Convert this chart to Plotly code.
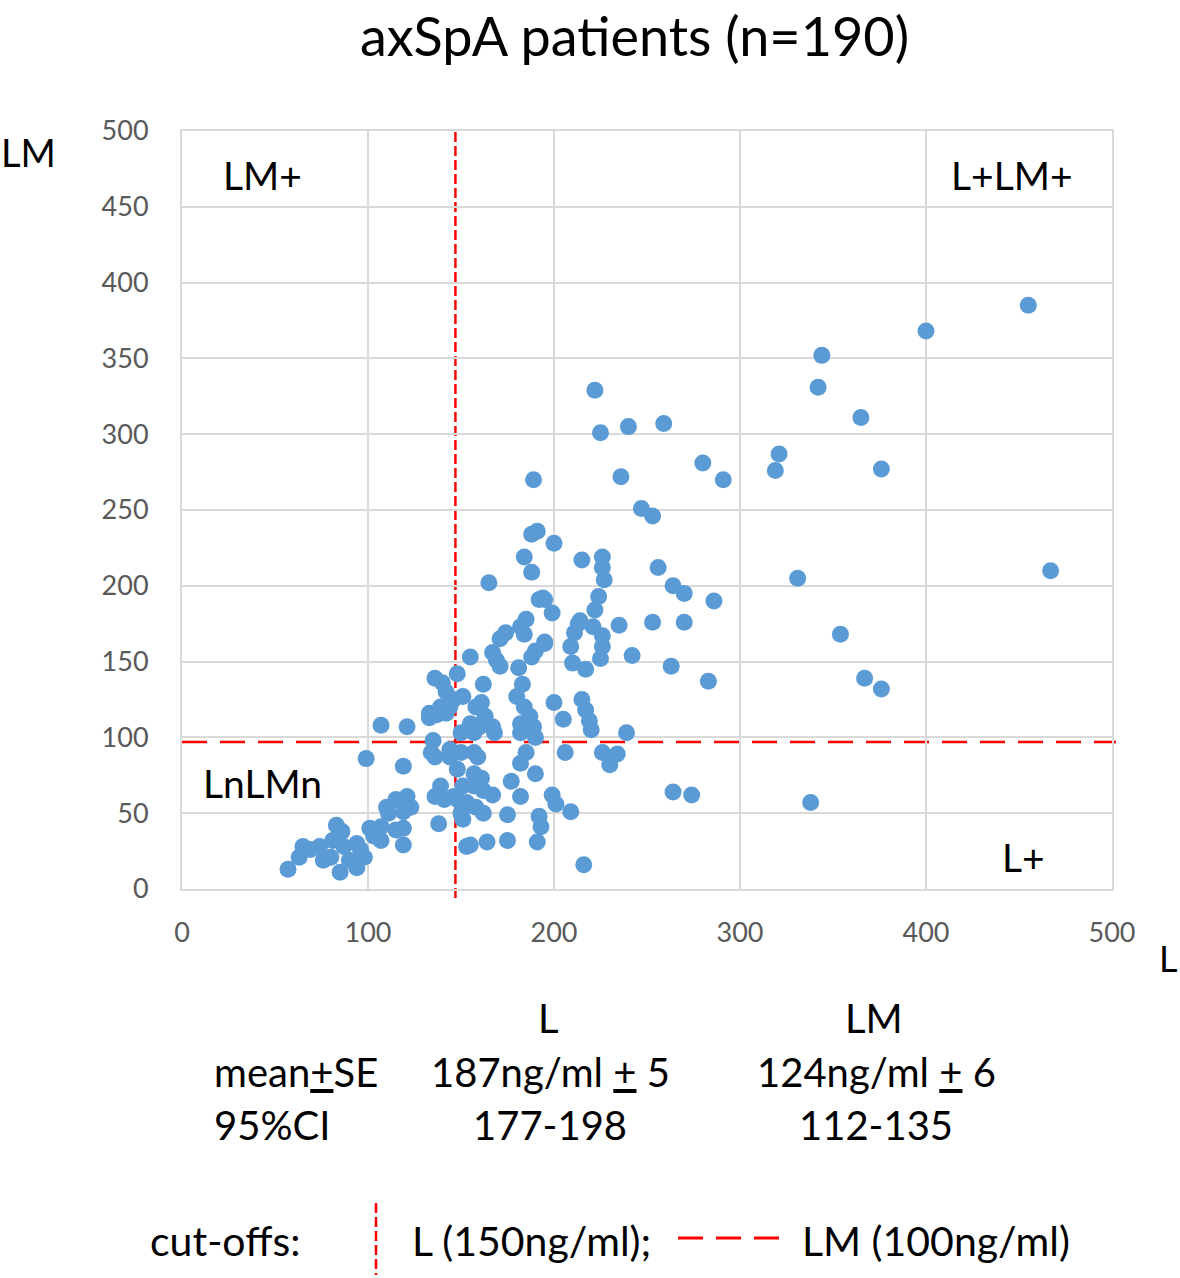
import plotly.graph_objects as go

# ---------------- data ----------------
L_values = [
    455, 400, 344, 342, 365, 321, 319, 376, 331, 467, 354, 367, 376, 338,
    240, 259, 280, 291, 236, 247, 253, 256, 264, 270, 286, 253, 270, 242,
    263, 283, 264, 274, 239,
    222, 225, 200, 215, 226, 226, 227, 224, 222, 213, 235, 221, 226, 226,
    225, 217, 210, 209, 211, 214, 195, 199, 195, 200, 205, 215, 217, 219,
    220, 206, 226, 230, 234, 216, 199, 201, 209, 192, 193, 191,
    189, 188, 191, 184, 188, 165, 192, 194, 185, 182, 174, 171, 184, 195,
    190, 188, 167, 169, 171, 181, 183, 180, 184, 187, 189, 190, 162, 155,
    148, 140, 136, 151, 146, 139, 133, 158, 161, 163, 160, 167, 168, 157,
    142, 142, 133, 137, 141, 144, 155, 159, 150,
    135, 134, 136, 144, 150, 157, 159, 144, 182, 182, 187, 185, 182, 190,
    177, 182, 175, 175, 164, 155, 153, 138, 139, 136, 141, 148, 157, 161,
    151, 157, 162, 167, 148, 153, 158, 162, 151, 150, 146, 107, 121, 99, 119,
    110, 115, 121, 123, 119, 111, 101, 107, 115, 119, 103, 107, 119,
    83, 86, 81, 87, 94, 96, 98, 65, 69, 63, 74, 76, 57, 85, 94, 80, 90,
]
LM_values = [
    385, 368, 352, 331, 311, 287, 276, 277, 205, 210, 168, 139, 132, 57,
    305, 307, 281, 270, 272, 251, 246, 212, 200, 195, 190, 176, 176, 154,
    147, 137, 64, 62, 103,
    329, 301, 228, 217, 219, 212, 204, 193, 184, 175, 174, 173, 167, 160,
    152, 145, 149, 160, 169, 177, 191, 182, 162, 123, 112, 125, 118, 111,
    105, 90, 90, 82, 89, 16, 62, 56, 51, 48, 41, 31,
    270, 234, 236, 219, 209, 202, 191, 192, 178, 173, 169, 165, 168, 163,
    157, 153, 156, 151, 147, 146, 135, 127, 120, 114, 107, 100, 135, 153,
    142, 136, 139, 127, 125, 120, 116, 120, 123, 114, 107, 107, 103, 103,
    130, 116, 113, 115, 117, 120, 109, 108, 103,
    98, 90, 87, 87, 90, 90, 87, 92, 109, 103, 105, 90, 83, 76,
    71, 61, 49, 32, 31, 29, 28, 43, 68, 61, 59, 79, 76, 73,
    68, 68, 65, 62, 59, 57, 54, 50, 46, 50, 61, 108, 107, 86, 81,
    54, 59, 61, 54, 51, 50, 40, 41, 39, 40, 35, 32, 29,
    42, 38, 32, 28, 30, 26, 21, 28, 26, 21, 28, 19, 13, 11, 14, 21, 19,
]

cutoff_L = 147    # drawn position of the L cut-off (150 ng/ml)
cutoff_LM = 97    # drawn position of the LM cut-off (100 ng/ml)

tick_vals_x = [0, 100, 200, 300, 400, 500]
tick_vals_y = [0, 50, 100, 150, 200, 250, 300, 350, 400, 450, 500]

title_text = "axSpA patients (n=190)"
quadrant_labels = ["LM+", "L+LM+", "LnLMn", "L+"]
table_header = ["L", "LM"]
table_row_labels = ['mean<span style="text-decoration:underline">+</span>SE', "95%CI"]
table_L = ['187ng/ml <span style="text-decoration:underline">+</span> 5', "177-198"]
table_LM = ['124ng/ml <span style="text-decoration:underline">+</span> 6', "112-135"]
legend_texts = ["cut-offs:", "L (150ng/ml);", "LM (100ng/ml)"]

# ---------------- layout helpers (page pixel -> paper) ----------------
W, H = 1180, 1278
PL, PR, PT, PB = 182, 1112, 131, 889
PW, PH = PR - PL, PB - PT


def pxx(x):
    return (x - PL) / PW


def pxy(y):
    return (PB - y) / PH


FONT = "Lato, Carlito, Calibri, sans-serif"
RED = "#FF0000"

fig = go.Figure()
fig.add_trace(go.Scatter(
    x=L_values, y=LM_values, mode="markers",
    marker=dict(color="#5B9BD5", size=17, line=dict(width=0)),
    showlegend=False, hoverinfo="x+y",
))

shapes = [
    # L cut-off (vertical)
    dict(type="line", xref="x", yref="paper", x0=cutoff_L, x1=cutoff_L,
         y0=pxy(898), y1=1, line=dict(color=RED, width=2.5, dash="10px,4px"),
         layer="below"),
    # LM cut-off (horizontal)
    dict(type="line", xref="paper", yref="y", x0=0, x1=pxx(1116),
         y0=cutoff_LM, y1=cutoff_LM,
         line=dict(color=RED, width=2.5, dash="25px,13px"), layer="below"),
    # legend samples
    dict(type="line", xref="paper", yref="paper", x0=pxx(376), x1=pxx(376),
         y0=pxy(1203), y1=pxy(1275),
         line=dict(color=RED, width=2.5, dash="10px,4px")),
    dict(type="line", xref="paper", yref="paper", x0=pxx(678), x1=pxx(790),
         y0=pxy(1238), y1=pxy(1238),
         line=dict(color=RED, width=3, dash="25px,13px")),
]

annotations = []


def add_text(text, x, y, size, xanchor="center", color="#000000"):
    annotations.append(dict(
        text=text, x=pxx(x), y=pxy(y), xref="paper", yref="paper",
        xanchor=xanchor, yanchor="middle", showarrow=False,
        font=dict(family=FONT, size=size, color=color),
    ))


add_text(title_text, 634, 35, 54)
add_text("LM", 28, 152, 38)
add_text("L", 1168, 958, 36)

for lab, (x, y) in zip(quadrant_labels, [(262, 175), (1012, 175), (262, 783), (1023, 857)]):
    add_text(lab, x, y, 39)

add_text(table_header[0], 548, 1018, 40)
add_text(table_header[1], 874, 1018, 40)
for i, yy in enumerate([1072, 1125]):
    add_text(table_row_labels[i], 212, yy, 40, xanchor="left")
    add_text(table_L[i], 550, yy, 40)
    add_text(table_LM[i], 876, yy, 40)

add_text(legend_texts[0], 148, 1240, 41, xanchor="left")
add_text(legend_texts[1], 410, 1240, 41, xanchor="left")
add_text(legend_texts[2], 800, 1240, 41, xanchor="left")

axis_common = dict(
    showgrid=True, gridcolor="#D9D9D9", gridwidth=2,
    zeroline=False, showline=True, linecolor="#D9D9D9", linewidth=2,
    mirror=True, ticks="", fixedrange=True,
    tickfont=dict(family=FONT, size=27, color="#595959"),
)

fig.update_layout(
    width=W, height=H,
    margin=dict(l=PL, r=W - PR, t=PT, b=H - PB, pad=0),
    paper_bgcolor="white", plot_bgcolor="white",
    xaxis=dict(range=[0, 500], tickvals=tick_vals_x, ticklabelstandoff=19,
               **axis_common),
    yaxis=dict(range=[0, 500], tickvals=tick_vals_y, ticklabelstandoff=26,
               **axis_common),
    shapes=shapes, annotations=annotations,
)

fig.write_html(
    "out.html",
    config={"displayModeBar": False},
    post_script="document.body.style.margin='0px';document.body.style.overflow='hidden';",
)
